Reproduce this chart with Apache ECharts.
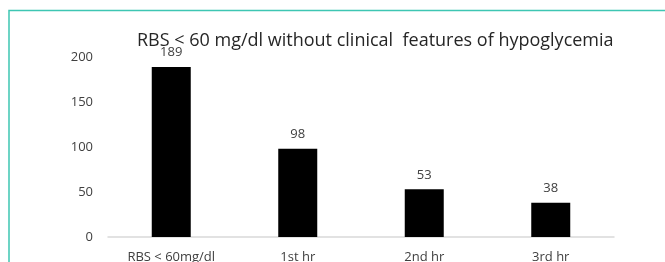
<!DOCTYPE html>
<html>
<head>
<meta charset="utf-8">
<script src="https://cdn.jsdelivr.net/npm/echarts@6/dist/echarts.min.js"></script>
<style>
  html, body { margin: 0; padding: 0; background: #fff; }
  #chart { width: 665px; height: 262px; }
</style>
</head>
<body>
<div id="chart"></div>
<script>
// data
var categories = ['RBS < 60mg/dl', '1st hr', '2nd hr', '3rd hr'];
var counts = [189, 98, 53, 38];
var yTicks = [0, 50, 100, 150, 200];

var chart = echarts.init(document.getElementById('chart'));

chart.setOption({
  animation: false,
  textStyle: { fontFamily: 'Open Sans, Liberation Sans, sans-serif' },
  title: {
    text: 'RBS < 60 mg/dl without clinical  features of hypoglycemia',
    left: 137,
    top: 30,
    padding: 0,
    textStyle: { fontSize: 18, lineHeight: 21, fontWeight: 'normal', color: '#262626' }
  },
  graphic: [{
    type: 'polyline',
    shape: { points: [[9, 262], [9, 10.5], [665, 10.5]] },
    style: { stroke: '#3ec6b3', lineWidth: 1.5, fill: null }
  }],
  grid: { left: 108, right: 51, top: 57, bottom: 25, outerBoundsMode: 'none' },
  xAxis: {
    type: 'category',
    data: categories,
    axisLine: { lineStyle: { color: '#d9d9d9', width: 1.5 } },
    axisTick: { show: false },
    axisLabel: { color: '#404040', fontSize: 13, margin: 14 }
  },
  yAxis: {
    type: 'value',
    min: yTicks[0],
    max: yTicks[yTicks.length - 1],
    interval: 50,
    splitLine: { show: false },
    axisLine: { show: false },
    axisTick: { show: false },
    axisLabel: { color: '#404040', fontSize: 13, margin: 15 }
  },
  series: [{
    type: 'bar',
    data: counts,
    barWidth: 39,
    itemStyle: { color: '#000' },
    label: {
      show: true,
      position: 'top',
      distance: 8,
      color: '#404040',
      fontSize: 13
    }
  }]
});
</script>
</body>
</html>
